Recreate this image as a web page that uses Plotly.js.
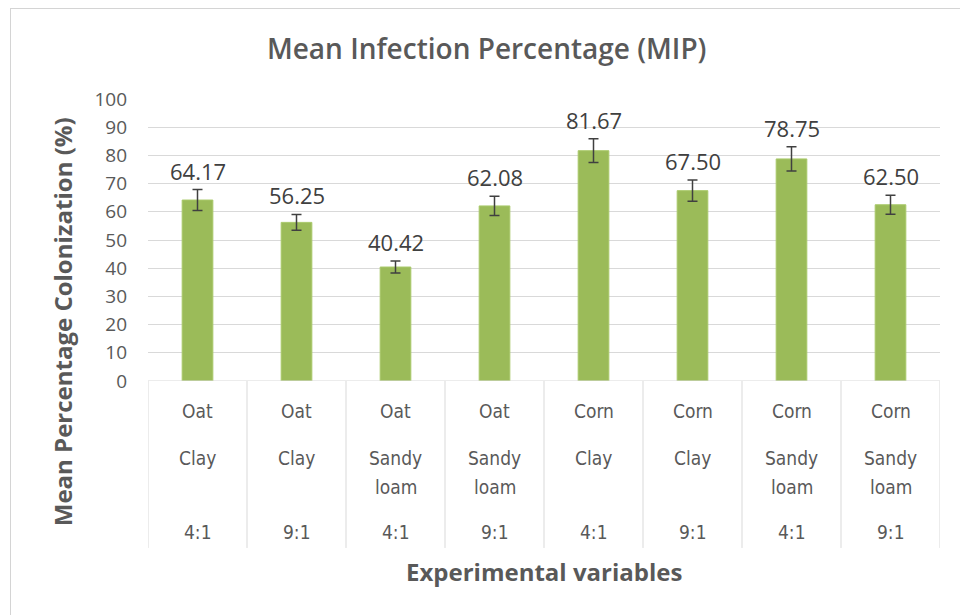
<!DOCTYPE html>
<html>
<head>
<meta charset="utf-8">
<script src="https://cdn.plot.ly/plotly-3.0.1.min.js"></script>
<style>
  html, body { margin: 0; padding: 0; background: #fff; }
  #wrap { position: relative; width: 960px; height: 615px; overflow: hidden; }
  #chart { position: absolute; left: 0; top: 0; width: 960px; height: 615px; }
  #frame { position: absolute; left: 10px; top: 8px; width: 970px; height: 640px;
           border: 1px solid #d4d4d4; pointer-events: none; }
</style>
</head>
<body>
<div id="wrap">
  <div id="chart"></div>
  <div id="frame"></div>
</div>
<script>
// ---- data ----
const crops  = ["Oat", "Oat", "Oat", "Oat", "Corn", "Corn", "Corn", "Corn"];
const soils  = ["Clay", "Clay", "Sandy loam", "Sandy loam", "Clay", "Clay", "Sandy loam", "Sandy loam"];
const ratios = ["4:1", "9:1", "4:1", "9:1", "4:1", "9:1", "4:1", "9:1"];
const mip    = [64.17, 56.25, 40.42, 62.08, 81.67, 67.50, 78.75, 62.50];
const errs   = [3.7, 2.8, 2.1, 3.4, 4.2, 3.8, 4.3, 3.4];
const yTicks = [0, 10, 20, 30, 40, 50, 60, 70, 80, 90, 100];

const idx = crops.map((_, i) => i);
const txtColor = "#595959";
const catFont = { family: "Liberation Sans Narrow, DejaVu Sans Condensed, Open Sans, sans-serif", size: 19, color: txtColor };

const trace = {
  type: "bar",
  x: idx,
  y: mip,
  width: 0.31,
  marker: { color: "#9bbb59", line: { color: "#a9c96a", width: 1 } },
  error_y: { type: "data", array: errs, visible: true, color: "#404040", thickness: 1.5, width: 5 },
  hoverinfo: "y"
};

const annotations = [];
idx.forEach(i => {
  annotations.push({ x: i, y: mip[i] + errs[i], xref: "x", yref: "y", text: mip[i].toFixed(2),
    showarrow: false, yanchor: "bottom", yshift: 2,
    font: { family: "Open Sans, sans-serif", size: 22, color: "#404040" } });
  annotations.push({ x: i, y: -0.106, xref: "x", yref: "paper", text: crops[i],
    showarrow: false, yanchor: "middle", font: catFont });
  const parts = soils[i].split(" ");
  annotations.push({ x: i, y: -0.273, xref: "x", yref: "paper", text: parts[0],
    showarrow: false, yanchor: "middle", font: catFont });
  if (parts.length > 1) {
    annotations.push({ x: i, y: -0.376, xref: "x", yref: "paper", text: parts.slice(1).join(" "),
      showarrow: false, yanchor: "middle", font: catFont });
  }
  annotations.push({ x: i, y: -0.535, xref: "x", yref: "paper", text: ratios[i],
    showarrow: false, yanchor: "middle", font: catFont });
});
annotations.push({ x: 0.5, y: -0.677, xref: "paper", yref: "paper", text: "<b>Experimental variables</b>",
  showarrow: false, yanchor: "middle",
  font: { family: "Open Sans, sans-serif", size: 24, color: txtColor } });
annotations.push({ x: -0.108, y: 0.21, xref: "paper", yref: "paper", text: "<b>Mean Percentage Colonization (%)</b>",
  showarrow: false, textangle: -90, xanchor: "center", yanchor: "middle",
  font: { family: "Open Sans, sans-serif", size: 24, color: txtColor } });

const shapes = [];
for (let k = 0; k <= idx.length; k++) {
  shapes.push({ type: "line", xref: "x", yref: "paper", x0: k - 0.5, x1: k - 0.5, y0: 0, y1: -0.592,
    line: { color: "#d9d9d9", width: 1 } });
}
shapes.push({ type: "line", xref: "paper", yref: "y", x0: 0, x1: 1, y0: 0, y1: 0,
  line: { color: "#d9d9d9", width: 1 } });

const layout = {
  width: 960, height: 615,
  margin: { l: 148, r: 20, t: 99, b: 234 },
  paper_bgcolor: "#ffffff", plot_bgcolor: "#ffffff",
  showlegend: false,
  title: { text: "Mean Infection Percentage (MIP)", x: 0.507, xref: "container", y: 0.92, yref: "container",
    yanchor: "middle",
    font: { family: "Open Sans, sans-serif", size: 28, weight: 600, color: txtColor } },
  xaxis: { range: [-0.5, idx.length - 0.5], showticklabels: false, showgrid: false, zeroline: false,
    showline: false, ticks: "", fixedrange: true },
  yaxis: { range: [0, 100], tickvals: yTicks, ticktext: yTicks.map(String), showgrid: true,
    gridcolor: "#d9d9d9", gridwidth: 1, zeroline: false, showline: false, ticks: "",
    ticklabelstandoff: 20,
    tickfont: { family: "Open Sans, sans-serif", size: 19, color: txtColor } },
  annotations: annotations,
  shapes: shapes
};

Plotly.newPlot("chart", [trace], layout, { displayModeBar: false, staticPlot: true });
</script>
</body>
</html>
